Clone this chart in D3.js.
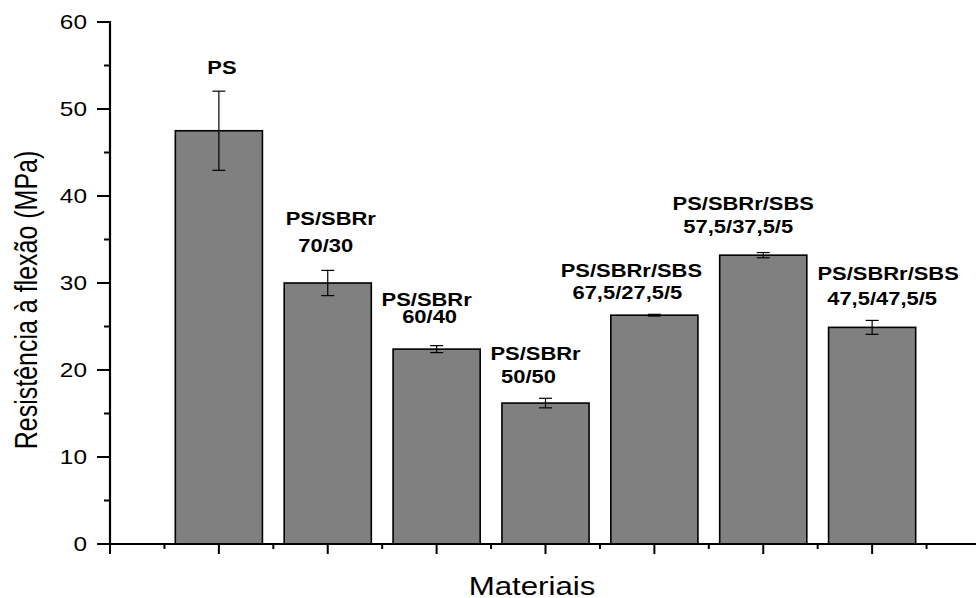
<!DOCTYPE html>
<html>
<head>
<meta charset="utf-8">
<script src="https://cdn.jsdelivr.net/npm/d3@7"></script>
<style>
  body { margin: 0; background: #fff; }
  text { font-family: "Liberation Sans", Arial, sans-serif; fill: #000; }
</style>
</head>
<body>
<svg id="chart" width="976" height="598"></svg>
<script>
// materials (two-line labels) and flexural strength
var labelTop = ["PS", "PS/SBRr", "PS/SBRr", "PS/SBRr", "PS/SBRr/SBS", "PS/SBRr/SBS", "PS/SBRr/SBS"];
var labelBottom = ["", "70/30", "60/40", "50/50", "67,5/27,5/5", "57,5/37,5/5", "47,5/47,5/5"];
var values = [47.5, 30.0, 22.4, 16.2, 26.3, 33.2, 24.9];
var errors = [4.55, 1.45, 0.4, 0.55, 0.1, 0.3, 0.8];
var yTicks = [0, 10, 20, 30, 40, 50, 60];

// where each label sits: [dx in px from bar centre line 1, line 1 value, dx line 2, line 2 value]
var labelAt = [
    [3, 54.0, 0, 0],
    [3, 36.7, -2, 33.6],
    [-10, 27.4, -7, 25.4],
    [-10, 21.1, -17, 18.5],
    [-23, 30.7, -27, 28.2],
    [-20, 38.4, -25, 35.8],
    [16, 30.3, 10, 27.5]
];

var sx = 1.22; // the original text is a bit wider than Arial

var svg = d3.select("#chart");

var x = d3.scaleLinear().domain([0, 8]).range([110, 981]);
var y = d3.scaleLinear().domain([0, 60]).range([544, 22]);
var barW = x(0.8) - x(0);

// bars
svg.selectAll("rect.bar")
    .data(values)
    .enter().append("rect")
    .attr("class", "bar")
    .attr("x", function(d, i) { return x(i + 1) - barW / 2; })
    .attr("y", function(d) { return y(d); })
    .attr("width", barW)
    .attr("height", function(d) { return y(0) - y(d); })
    .attr("fill", "#808080")
    .attr("stroke", "#000")
    .attr("stroke-width", 1.6);

// error bars
var err = svg.append("g").attr("stroke", "#000").attr("stroke-width", 1.2);
values.forEach(function(v, i) {
    var cx = x(i + 1), hi = y(v + errors[i]), lo = y(v - errors[i]);
    err.append("line").attr("x1", cx).attr("x2", cx).attr("y1", hi).attr("y2", lo);
    err.append("line").attr("x1", cx - 6.5).attr("x2", cx + 6.5).attr("y1", hi).attr("y2", hi);
    err.append("line").attr("x1", cx - 6.5).attr("x2", cx + 6.5).attr("y1", lo).attr("y2", lo);
});

// y axis
var yAxis = svg.append("g").attr("transform", "translate(110,0)");
yAxis.append("line").attr("y1", y(0) + 1).attr("y2", y(60) - 1)
    .attr("stroke", "#000").attr("stroke-width", 2.2);
d3.range(0, 61, 5).forEach(function(t) {
    var major = t % 10 === 0;
    yAxis.append("line").attr("x1", major ? -13 : -6).attr("x2", 0)
        .attr("y1", y(t)).attr("y2", y(t))
        .attr("stroke", "#000").attr("stroke-width", 2);
});
yAxis.selectAll("text.tick")
    .data(yTicks)
    .enter().append("text")
    .attr("class", "tick")
    .attr("transform", function(d) { return "translate(-23," + (y(d) + 7) + ") scale(" + sx + ",1)"; })
    .attr("text-anchor", "end")
    .attr("font-size", 20)
    .text(function(d) { return d; });

// x axis, no tick labels
var xAxis = svg.append("g").attr("transform", "translate(0," + y(0) + ")");
xAxis.append("line").attr("x1", x(0) - 1).attr("x2", x(8))
    .attr("stroke", "#000").attr("stroke-width", 2.2);
d3.range(0, 8.01, 0.5).forEach(function(t) {
    var major = t % 1 === 0;
    xAxis.append("line").attr("x1", x(t)).attr("x2", x(t))
        .attr("y1", 0).attr("y2", major ? 10 : 5)
        .attr("stroke", "#000").attr("stroke-width", 2);
});

// bar labels
values.forEach(function(v, i) {
    var cx = x(i + 1), p = labelAt[i];
    svg.append("text")
        .attr("transform", "translate(" + (cx + p[0]) + "," + y(p[1]) + ") scale(" + sx + ",1)")
        .attr("text-anchor", "middle")
        .attr("font-size", 18)
        .attr("font-weight", "bold")
        .text(labelTop[i]);
    if (labelBottom[i]) {
        svg.append("text")
            .attr("transform", "translate(" + (cx + p[2]) + "," + y(p[3]) + ") scale(" + sx + ",1)")
            .attr("text-anchor", "middle")
            .attr("font-size", 18)
            .attr("font-weight", "bold")
            .text(labelBottom[i]);
    }
});

// axis titles
svg.append("text")
    .attr("transform", "translate(532,595) scale(1.25,1)")
    .attr("text-anchor", "middle")
    .attr("font-size", 25)
    .text("Materiais");

svg.append("text")
    .attr("transform", "translate(37,300) scale(1.25,1) rotate(-90)")
    .attr("text-anchor", "middle")
    .attr("font-size", 25)
    .text("Resistência à flexão (MPa)");
</script>
</body>
</html>
